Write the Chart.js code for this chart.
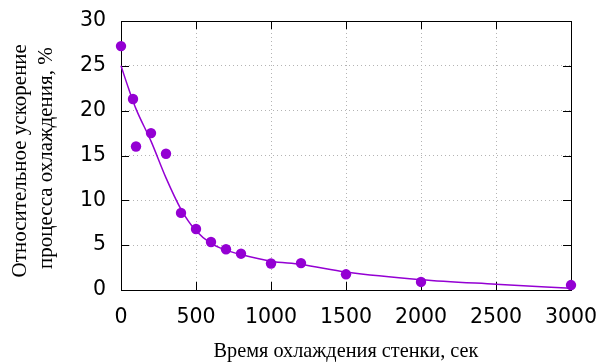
<!DOCTYPE html>
<html>
<head>
<meta charset="utf-8">
<script src="https://cdn.jsdelivr.net/npm/chart.js@4"></script>
<style>
  html, body { margin: 0; padding: 0; background: #fff; }
  #wrap { width: 602px; height: 362px; }
</style>
</head>
<body>
<div id="wrap"><canvas id="chart" width="602" height="362"></canvas></div>
<script>
// Измерения (точки)
const timeSec = [0, 80, 100, 200, 300, 400, 500, 600, 700, 800, 1000, 1200, 1500, 2000, 3000];
const speedup = [27.2, 21.3, 16.0, 17.5, 15.2, 8.6, 6.8, 5.35, 4.55, 4.05, 2.95, 3.0, 1.75, 0.9, 0.55];

// Аппроксимирующая кривая
const fitTime = [0, 50, 100, 200, 300, 400, 500, 600, 700, 800, 1000, 1200, 1500, 2000, 2500, 3000];
const fitValue = [25.0, 22.5, 20.2, 16.6, 12.5, 9.0, 6.6, 5.2, 4.45, 3.95, 3.2, 2.85, 2.0, 1.15, 0.65, 0.2];

const xTitle = 'Время охлаждения стенки, сек';
const yTitle = ['Относительное ускорение  ', 'процесса охлаждения, % '];

const violet = '#9400d3';

// рамка и засечки внутрь, как в gnuplot
const framePlugin = {
    id: 'frame',
    beforeDatasetsDraw(chart) {
        const { ctx, chartArea: a, scales } = chart;
        const len = 8;
        ctx.save();
        ctx.strokeStyle = '#000';
        ctx.lineWidth = 1;
        ctx.beginPath();
        scales.x.ticks.forEach(t => {
            const px = Math.round(scales.x.getPixelForValue(t.value)) + 0.5;
            ctx.moveTo(px, a.bottom); ctx.lineTo(px, a.bottom - len);
            ctx.moveTo(px, a.top); ctx.lineTo(px, a.top + len);
        });
        scales.y.ticks.forEach(t => {
            const py = Math.round(scales.y.getPixelForValue(t.value)) + 0.5;
            ctx.moveTo(a.left, py); ctx.lineTo(a.left + len, py);
            ctx.moveTo(a.right, py); ctx.lineTo(a.right - len, py);
        });
        ctx.stroke();
        ctx.strokeRect(Math.round(a.left) + 0.5, Math.round(a.top) + 0.5,
            Math.round(a.right - a.left), Math.round(a.bottom - a.top));
        ctx.restore();
    }
};

function noPadding(scale) {
    scale.paddingLeft = 0;
    scale.paddingRight = 0;
    scale.paddingTop = 0;
    scale.paddingBottom = 0;
}

const tickFont = { family: 'DejaVu Sans', size: 20.5 };

new Chart(document.getElementById('chart').getContext('2d'), {
    type: 'scatter',
    data: {
        datasets: [
            {
                label: 'fit',
                data: fitTime.map((x, i) => ({ x, y: fitValue[i] })),
                showLine: true,
                borderColor: violet,
                borderWidth: 1.5,
                pointRadius: 0,
                cubicInterpolationMode: 'monotone',
                clip: false
            },
            {
                label: 'data',
                data: timeSec.map((x, i) => ({ x, y: speedup[i] })),
                backgroundColor: violet,
                borderWidth: 0,
                pointRadius: 5.2,
                clip: false
            }
        ]
    },
    options: {
        responsive: false,
        animation: false,
        events: [],
        layout: { padding: { left: 0, right: 31, top: 21, bottom: 0 } },
        plugins: { legend: { display: false }, tooltip: { enabled: false } },
        scales: {
            x: {
                type: 'linear',
                min: 0, max: 3000,
                ticks: { stepSize: 500, color: '#000', font: tickFont, padding: 15, maxRotation: 0,
                         callback: v => String(v) },
                grid: { color: '#b4b4b4', drawTicks: false },
                border: { display: false, dash: [1, 3] },
                title: { display: true, text: xTitle, color: '#000',
                         font: { family: 'Liberation Serif', size: 20.3 }, padding: { top: 0, bottom: -2 } },
                afterFit(scale) { scale.height = 72; noPadding(scale); }
            },
            y: {
                type: 'linear',
                min: 0, max: 30,
                ticks: { stepSize: 5, color: '#000', font: tickFont, padding: 15, callback: v => String(v) },
                grid: { color: '#b4b4b4', drawTicks: false },
                border: { display: false, dash: [1, 3] },
                title: {
                    display: true, text: yTitle, color: '#000',
                    font: { family: 'Liberation Serif', size: 21, lineHeight: '26px' },
                    padding: { top: 7, bottom: 0 }
                },
                afterFit(scale) { scale.width = 121; noPadding(scale); }
            }
        }
    },
    plugins: [framePlugin]
});
</script>
</body>
</html>
